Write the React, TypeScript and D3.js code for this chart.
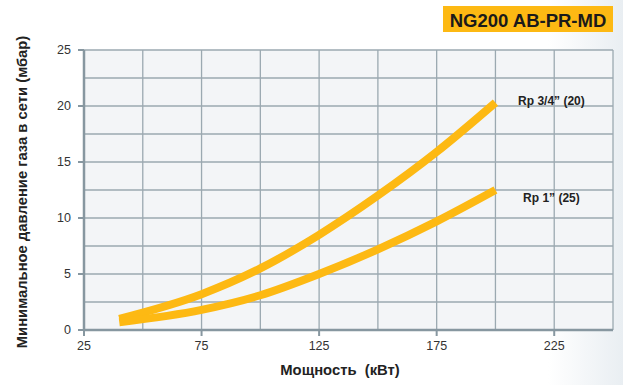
import React from "react";
import * as d3 from "d3";

const WIDTH = 623;
const HEIGHT = 385;
const MARGIN = { top: 50, right: 10, bottom: 55, left: 84 };

// power (kW) where each curve is read
const powerRp34 = [40, 75, 100, 125, 150, 175, 200];
const pressureRp34 = [1.0, 3.2, 5.5, 8.5, 12.0, 15.9, 20.3];

const powerRp1 = [40, 75, 100, 125, 150, 175, 200];
const pressureRp1 = [0.7, 1.8, 3.1, 5.0, 7.2, 9.7, 12.5];

const xTicks = [25, 75, 125, 175, 225];
const yTicks = [0, 5, 10, 15, 20, 25];

const series = [
  { label: "Rp 3/4\u201D (20)", x: powerRp34, y: pressureRp34 },
  { label: "Rp 1\u201D (25)", x: powerRp1, y: pressureRp1 },
];

// where the curve names sit relative to the curve end (px)
const labelOffset = [
  { dx: 56, dy: -2 },
  { dx: 56, dy: 8 },
];

const ORANGE = "#fdb913";
const GRID = "#9ba9b1";

const App = () => {
  const boundsWidth = WIDTH - MARGIN.left - MARGIN.right;
  const boundsHeight = 330 - MARGIN.top;

  const xScale = d3.scaleLinear().domain([25, 250]).range([0, boundsWidth]);
  const yScale = d3.scaleLinear().domain([0, 25]).range([boundsHeight, 0]);

  const line = d3
    .line<[number, number]>()
    .x(d => xScale(d[0]))
    .y(d => yScale(d[1]))
    .curve(d3.curveMonotoneX);

  // grid every 25 kW and every 2.5 mbar
  const xGrid = d3.range(25, 251, 25);
  const yGrid = d3.range(0, 25.01, 2.5);

  return (
    <svg
      width={WIDTH}
      height={HEIGHT}
      style={{ position: "absolute", left: 0, top: 0 }}
      fontFamily="'Liberation Sans', Arial, sans-serif"
    >
      <defs>
        <linearGradient id="bgfade" x1="0" x2="1" y1="0" y2="0">
          <stop offset="0" stopColor="#ffffff" />
          <stop offset="0.88" stopColor="#ffffff" />
          <stop offset="1" stopColor="#e9eef2" />
        </linearGradient>
      </defs>
      <rect width={WIDTH} height={HEIGHT} fill="url(#bgfade)" />

      {/* title box */}
      <rect x={443} y={6} width={170} height={26} fill={ORANGE} />
      <text
        x={528}
        y={20}
        textAnchor="middle"
        dominantBaseline="central"
        fontSize={18.5}
        fontWeight="bold"
        fill="#1a1a1a"
      >
        NG200 AB-PR-MD
      </text>

      <g transform={`translate(${MARGIN.left},${MARGIN.top})`}>
        <rect width={boundsWidth} height={boundsHeight} fill="#f3f5f7" />
        {xGrid.map(v => (
          <line
            key={"x" + v}
            x1={xScale(v)}
            x2={xScale(v)}
            y1={0}
            y2={boundsHeight}
            stroke={GRID}
            strokeWidth={1.3}
          />
        ))}
        {yGrid.map(v => (
          <line
            key={"y" + v}
            x1={0}
            x2={boundsWidth}
            y1={yScale(v)}
            y2={yScale(v)}
            stroke={GRID}
            strokeWidth={1.3}
          />
        ))}

        {/* axes */}
        <line x1={0} x2={0} y1={0} y2={boundsHeight + 1} stroke="#8797a0" strokeWidth={2.5} />
        <line x1={-1} x2={boundsWidth} y1={boundsHeight} y2={boundsHeight} stroke="#8797a0" strokeWidth={2.5} />
        {yTicks.map(v => (
          <g key={"yt" + v}>
            <line x1={-6} x2={0} y1={yScale(v)} y2={yScale(v)} stroke="#8797a0" strokeWidth={2} />
            <text
              x={-13}
              y={yScale(v)}
              textAnchor="end"
              dominantBaseline="central"
              fontSize={12.5}
              fill="#333"
            >
              {v}
            </text>
          </g>
        ))}
        {xTicks.map(v => (
          <g key={"xt" + v}>
            <line x1={xScale(v)} x2={xScale(v)} y1={boundsHeight} y2={boundsHeight + 6} stroke="#8797a0" strokeWidth={2} />
            <text
              x={xScale(v)}
              y={boundsHeight + 16}
              textAnchor="middle"
              dominantBaseline="central"
              fontSize={12.5}
              fill="#333"
            >
              {v}
            </text>
          </g>
        ))}

        {/* curves */}
        {series.map((s, si) => {
          const pts = s.x.map((x, i) => [x, s.y[i]] as [number, number]);
          const last = pts[pts.length - 1];
          return (
            <g key={s.label}>
              <path d={line(pts) ?? ""} fill="none" stroke={ORANGE} strokeWidth={8} />
              <text
                x={xScale(last[0]) + labelOffset[si].dx}
                y={yScale(last[1]) + labelOffset[si].dy}
                textAnchor="middle"
                dominantBaseline="central"
                fontSize={12}
                fontWeight="bold"
                fill="#222"
              >
                {s.label}
              </text>
            </g>
          );
        })}
      </g>

      {/* axis titles */}
      <text
        x={340}
        y={370}
        textAnchor="middle"
        dominantBaseline="central"
        fontSize={14.8}
        fontWeight="bold"
        fill="#222"
        style={{ whiteSpace: "pre" }}
      >
        {"Мощность  (кВт)"}
      </text>
      <text
        transform="translate(22,192) rotate(-90)"
        textAnchor="middle"
        dominantBaseline="central"
        fontSize={14.8}
        fontWeight="bold"
        fill="#222"
      >
        Минимальное давление газа в сети (мбар)
      </text>
    </svg>
  );
};

export default App;
